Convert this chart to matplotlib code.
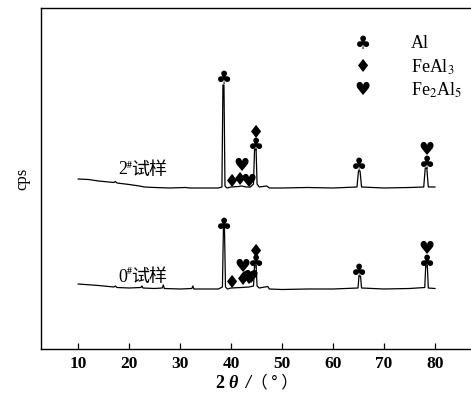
import matplotlib
matplotlib.use("Agg")
import matplotlib.pyplot as plt

# XRD traces (y in arbitrary cps, offset stacked)
x_s2 = [10, 12, 14, 16, 17, 17.3, 17.6, 20, 22, 23, 25, 28, 31, 32, 35, 37.5,
        38.2, 38.4, 38.6, 38.8, 39.2, 40.0, 41.5, 42.0, 43.0, 43.8, 44.4, 44.6,
        44.9, 45.1, 45.5, 47, 47.5, 50, 55, 60, 64.7, 65.0, 65.3, 65.6, 70, 75,
        77.8, 78.1, 78.4, 78.7, 80]
y_s2 = [170, 169.5, 168, 167, 166.5, 167.5, 166, 164.5, 163, 162, 161.5, 161,
        161.5, 161, 161, 161, 162, 264, 264, 163, 161, 162, 162.5, 163, 162,
        162, 165, 200, 200, 165, 162, 163, 161, 161, 161.5, 161, 162, 178, 178,
        162, 161, 161.5, 162, 181, 181, 162, 162]

x_s0 = [10, 14, 17, 17.3, 17.6, 20, 22.3, 22.5, 22.7, 25, 26.5, 26.7, 26.9, 30,
        32.3, 32.5, 32.7, 37.5, 38.3, 38.5, 38.7, 38.9, 39.3, 40, 42, 43.5,
        44.4, 44.6, 44.9, 45.1, 45.5, 47.2, 47.5, 50, 55, 60, 64.9, 65.1, 65.4,
        65.6, 70, 75, 78, 78.2, 78.5, 78.7, 80]
y_s0 = [65, 63.5, 62, 63, 61.5, 61, 61.5, 63, 61, 60.5, 61, 64, 60.5, 60, 60.5,
        63, 60, 60, 62, 122, 122, 62, 60, 61, 61.5, 62, 63, 84, 84, 63, 61,
        62.5, 60, 59.5, 60, 60, 61, 73, 73, 61, 60, 60.5, 61.5, 84, 84, 61,
        60.5]

# phase markers (x, y)
al_x = [38.6, 44.9, 65.2, 78.4, 38.6, 44.9, 65.2, 78.4]
al_y = [270, 203, 183, 185, 123, 86, 77, 86]
feal3_x = [40.2, 41.8, 44.8, 40.2, 42.3, 44.8]
feal3_y = [167, 169, 216, 66, 69, 97]
fe2al5_x = [42.0, 43.5, 78.4, 42.3, 43.4, 43.9, 78.4]
fe2al5_y = [183, 167, 199, 82, 70, 71, 100]

legend_labels = ["Al", "FeAl$_3$", "Fe$_2$Al$_5$"]
symbols = ["\u2663", "\u2666", "\u2665"]

plt.rcParams["font.family"] = ["Liberation Serif", "Noto Sans CJK SC"]
plt.rcParams["mathtext.fontset"] = "stix"

fig = plt.figure(figsize=(4.71, 3.94), dpi=100)
ax = fig.add_axes([41 / 471, 45 / 394, 1 - 41 / 471 + 0.01, 341 / 394])

ax.plot(x_s2, y_s2, color="black", lw=0.9)
ax.plot(x_s0, y_s0, color="black", lw=0.9)

sym_kw = dict(ha="center", va="center", fontsize=13, color="black",
              family="DejaVu Sans")
for xs, ys, s in [(al_x, al_y, symbols[0]), (feal3_x, feal3_y, symbols[1]),
                  (fe2al5_x, fe2al5_y, symbols[2])]:
    for x, y in zip(xs, ys):
        ax.text(x, y, s, **sym_kw)

# legend
for i, (s, lab) in enumerate(zip(symbols, legend_labels)):
    yy = 305 - 23 * i
    ax.text(65.8, yy, s, **sym_kw)
    ax.text(75.3, yy, lab, ha="left", va="center", fontsize=13)

# sample labels
for num, yy in [("2", 179), ("0", 72)]:
    ax.text(17.9, yy, num, ha="left", va="center", fontsize=13)
    ax.text(19.5, yy + 5, "#", ha="left", va="center", fontsize=7,
            fontweight="bold")
    ax.text(20.3, yy, "试样", ha="left", va="center", fontsize=13,
            family=["Noto Sans CJK SC"])

ax.set_xlim(2.7, 88)
ax.set_ylim(0, 341)
ax.set_xticks([10, 20, 30, 40, 50, 60, 70, 80])
ax.set_yticks([])
ax.tick_params(axis="x", direction="in", length=4, width=0.9, pad=5,
               labelsize=12.5)
for lab in ax.get_xticklabels():
    lab.set_fontweight("bold")
for sp in ["left", "bottom", "top"]:
    ax.spines[sp].set_linewidth(1.0)
ax.spines["right"].set_visible(False)

# x label "2 θ / （ ° ）" built from pieces (italic theta, CJK brackets)
lab_y = 1 - 383 / 394
fig.text(220 / 471, lab_y, "2", ha="center", va="center", fontsize=13,
         fontweight="bold")
fig.text(233 / 471, lab_y, "θ", ha="center", va="center", fontsize=13,
         fontweight="bold", fontstyle="italic")
fig.text(248 / 471, lab_y, "/", ha="center", va="center", fontsize=13,
         fontweight="bold", fontstyle="italic")
fig.text(274 / 471, lab_y, "（ ° ）", ha="center", va="center", fontsize=12,
         family=["Noto Sans CJK SC"])
ax.set_ylabel("cps", fontsize=12, labelpad=8)

fig.savefig("out.png", dpi=100, facecolor="white")
